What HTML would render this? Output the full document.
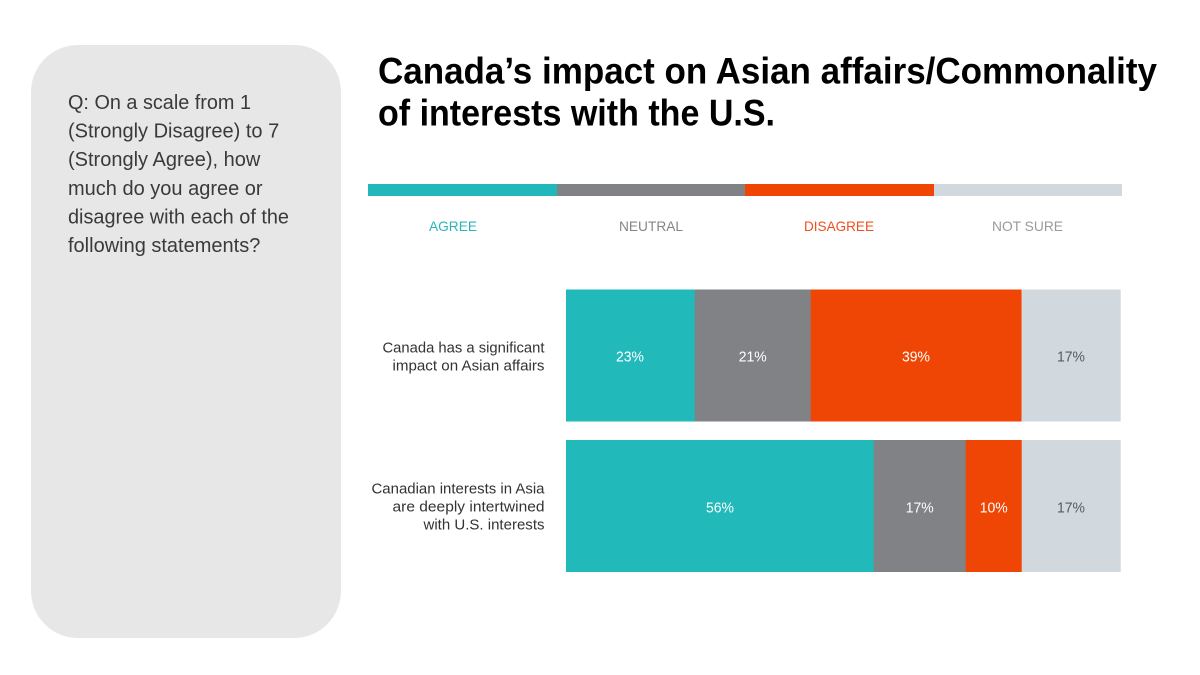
<!DOCTYPE html>
<html>
<head>
<meta charset="utf-8">
<style>
  html,body{margin:0;padding:0;background:#ffffff;}
  svg{display:block;}
  text{font-family:"Liberation Sans", Arial, sans-serif;}
</style>
</head>
<body>
<svg width="1200" height="675" viewBox="0 0 1200 675" xmlns="http://www.w3.org/2000/svg">
  <rect x="0" y="0" width="1200" height="675" fill="#ffffff"/>

  <!-- Question panel -->
  <rect x="31" y="45" width="310" height="593" rx="47" ry="47" fill="#e7e7e7"/>
  <g font-size="20" fill="#3a3a3a">
    <text x="68" y="109" textLength="183" lengthAdjust="spacingAndGlyphs">Q: On a scale from 1</text>
    <text x="68" y="137.6">(Strongly Disagree) to 7</text>
    <text x="68" y="166.2">(Strongly Agree), how</text>
    <text x="68" y="194.8">much do you agree or</text>
    <text x="68" y="223.4" textLength="221" lengthAdjust="spacingAndGlyphs">disagree with each of the</text>
    <text x="68" y="252">following statements?</text>
  </g>

  <!-- Title -->
  <g font-size="37.5" font-weight="bold" fill="#000000">
    <text x="378" y="83.5" textLength="779" lengthAdjust="spacingAndGlyphs">Canada’s impact on Asian affairs/Commonality</text>
    <text x="378" y="125.5" textLength="397" lengthAdjust="spacingAndGlyphs">of interests with the U.S.</text>
  </g>

  <!-- Legend bar -->
  <rect x="368" y="184" width="189" height="12" fill="#22b8bb"/>
  <rect x="557" y="184" width="188" height="12" fill="#808285"/>
  <rect x="745" y="184" width="189" height="12" fill="#f04605"/>
  <rect x="934" y="184" width="188" height="12" fill="#d1d9de"/>

  <g font-size="14" text-anchor="middle">
    <text x="453" y="231" fill="#2bb5b8" textLength="48" lengthAdjust="spacingAndGlyphs">AGREE</text>
    <text x="651" y="231" fill="#858585" textLength="64" lengthAdjust="spacingAndGlyphs">NEUTRAL</text>
    <text x="839" y="231" fill="#f04e1e" textLength="70" lengthAdjust="spacingAndGlyphs">DISAGREE</text>
    <text x="1027.5" y="231" fill="#9a9a9a" textLength="71" lengthAdjust="spacingAndGlyphs">NOT SURE</text>
  </g>

  <!-- Row 1 -->
  <rect x="566" y="289.5" width="129" height="132" fill="#22b9bb"/>
  <rect x="694.7" y="289.5" width="116.5" height="132" fill="#808285"/>
  <rect x="810.7" y="289.5" width="211" height="132" fill="#f04605"/>
  <rect x="1021.7" y="289.5" width="99" height="132" fill="#d1d9de"/>

  <!-- Row 2 -->
  <rect x="566" y="440" width="308" height="132" fill="#22b9bb"/>
  <rect x="873.7" y="440" width="92.5" height="132" fill="#808285"/>
  <rect x="965.7" y="440" width="56.5" height="132" fill="#f04605"/>
  <rect x="1021.7" y="440" width="99" height="132" fill="#d1d9de"/>

  <!-- Category labels -->
  <g font-size="15" fill="#333333" text-anchor="end">
    <text x="544.5" y="352.7" textLength="162" lengthAdjust="spacingAndGlyphs">Canada has a significant</text>
    <text x="544.5" y="370.7" textLength="152" lengthAdjust="spacingAndGlyphs">impact on Asian affairs</text>
    <text x="544.5" y="493.3" textLength="173" lengthAdjust="spacingAndGlyphs">Canadian interests in Asia</text>
    <text x="544.5" y="511.3" textLength="152" lengthAdjust="spacingAndGlyphs">are deeply intertwined</text>
    <text x="544.5" y="529.3" textLength="121" lengthAdjust="spacingAndGlyphs">with U.S. interests</text>
  </g>

  <!-- Percent labels -->
  <g font-size="14.5" text-anchor="middle">
    <text x="630" y="361.7" fill="#ffffff" textLength="28" lengthAdjust="spacingAndGlyphs">23%</text>
    <text x="752.7" y="361.7" fill="#ffffff" textLength="28" lengthAdjust="spacingAndGlyphs">21%</text>
    <text x="916" y="361.7" fill="#ffffff" textLength="28" lengthAdjust="spacingAndGlyphs">39%</text>
    <text x="1071" y="361.7" fill="#555b63" textLength="28" lengthAdjust="spacingAndGlyphs">17%</text>

    <text x="720" y="512.3" fill="#ffffff" textLength="28" lengthAdjust="spacingAndGlyphs">56%</text>
    <text x="919.7" y="512.3" fill="#ffffff" textLength="28" lengthAdjust="spacingAndGlyphs">17%</text>
    <text x="993.7" y="512.3" fill="#ffffff" textLength="28" lengthAdjust="spacingAndGlyphs">10%</text>
    <text x="1071" y="512.3" fill="#555b63" textLength="28" lengthAdjust="spacingAndGlyphs">17%</text>
  </g>
</svg>
</body>
</html>
